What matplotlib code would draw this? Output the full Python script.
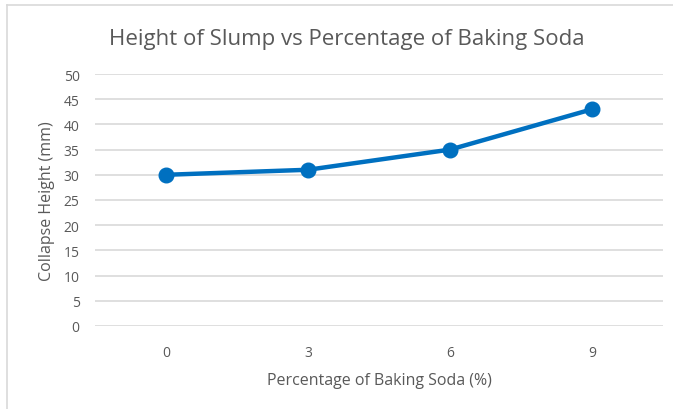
import matplotlib.pyplot as plt
from matplotlib.lines import Line2D

# chart data
pct_labels = ['0', '3', '6', '9']
heights = [30, 31, 35, 43]
y_ticks = [0, 5, 10, 15, 20, 25, 30, 35, 40, 45, 50]

plt.rcParams['font.family'] = ['Open Sans', 'DejaVu Sans']

W, H = 673, 410
fig = plt.figure(figsize=(W / 100, H / 100), dpi=100)
fig.patch.set_facecolor('white')

# plot area in pixel coords -> figure fractions
left, right, top, bottom = 95, 663, 75, 327
ax = fig.add_axes([left / W, 1 - bottom / H, (right - left) / W, (bottom - top) / H])

x = range(len(pct_labels))
ax.plot(x, heights, color='#0070C0', lw=3.2, marker='o', ms=10.5,
        solid_capstyle='round', zorder=3)

ax.set_xlim(-0.5, len(pct_labels) - 0.5)
ax.set_ylim(0, 50)
ax.set_yticks(y_ticks)
ax.set_xticks(list(x))
ax.set_xticklabels(pct_labels)
ax.grid(axis='y', color='#D9D9D9', lw=1.2)
ax.set_axisbelow(True)
for s in ax.spines.values():
    s.set_visible(False)
ax.tick_params(length=0, colors='#595959', labelsize=10)
ax.tick_params(axis='y', pad=11)
ax.tick_params(axis='x', pad=14)

ax.set_ylabel('Collapse Height (mm)', color='#595959', fontsize=11.5, labelpad=6)
ax.set_xlabel('Percentage of Baking Soda (%)', color='#595959', fontsize=11.5, labelpad=8)

fig.text(347 / W, 1 - 40 / H, 'Height of Slump vs Percentage of Baking Soda',
         ha='center', va='center', fontsize=16, color='#595959')

# light frame of the chart area (left and top edges visible)
fig.add_artist(Line2D([7 / W, 7 / W], [0, 1 - 6 / H], color='#D9D9D9', lw=1.2))
fig.add_artist(Line2D([7 / W, 1], [1 - 6 / H, 1 - 6 / H], color='#D9D9D9', lw=1.2))

fig.savefig('out.png', dpi=100)
